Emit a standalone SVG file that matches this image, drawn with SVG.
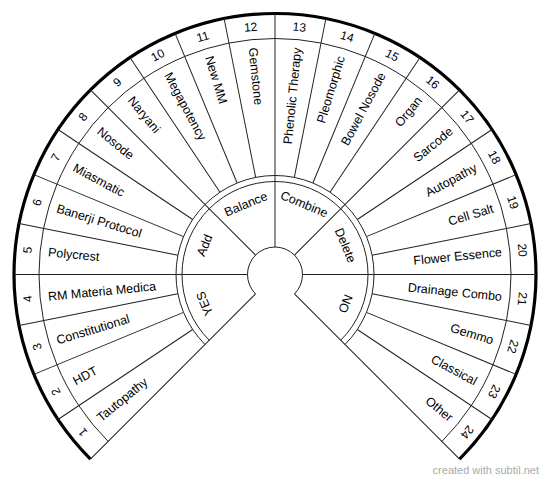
<svg xmlns="http://www.w3.org/2000/svg" width="550" height="482" viewBox="0 0 550 482">
<style>
.t{font-family:"Liberation Sans",Arial,sans-serif;font-size:12.5px;fill:#000;dominant-baseline:central}
.n{font-family:"Liberation Sans",Arial,sans-serif;font-size:12px;fill:#000;text-anchor:middle;dominant-baseline:central}
.l{text-anchor:start}
.r{text-anchor:end}
.c{text-anchor:middle}
.ln{stroke:#222;stroke-width:1;fill:none}
.thick{stroke:#000;stroke-width:3.2;fill:none}
.credit{font-family:"Liberation Sans",Arial,sans-serif;font-size:11px;fill:#aaa;text-anchor:end}
</style>
<rect width="550" height="482" fill="#fff"/>
<g id="frame">
<path class="thick" d="M90.45,459.05 A261,261 0 1 1 459.55,459.05"/>
<path class="ln" d="M108.12,441.38 A236,236 0 1 1 441.88,441.38"/>
<path class="ln" d="M205,344.5 A99,99 0 1 1 345,344.5"/>
<path class="ln" d="M209.24,340.26 A93,93 0 1 1 340.76,340.26"/>
<path class="ln" d="M255.55,293.95 A27.5,27.5 0 1 1 294.45,293.95"/>
</g>
<g id="connectors" transform="translate(275,274.5)">
<g class="ln">
<line x1="27.5" y1="0" x2="261" y2="0" transform="rotate(135)"/>
<line x1="27.5" y1="0" x2="261" y2="0" transform="rotate(180)"/>
<line x1="27.5" y1="0" x2="261" y2="0" transform="rotate(225)"/>
<line x1="27.5" y1="0" x2="261" y2="0" transform="rotate(270)"/>
<line x1="27.5" y1="0" x2="261" y2="0" transform="rotate(315)"/>
<line x1="27.5" y1="0" x2="261" y2="0" transform="rotate(0)"/>
<line x1="27.5" y1="0" x2="261" y2="0" transform="rotate(45)"/>
<line x1="99" y1="0" x2="261" y2="0" transform="rotate(-213.75)"/>
<line x1="99" y1="0" x2="261" y2="0" transform="rotate(-202.5)"/>
<line x1="99" y1="0" x2="261" y2="0" transform="rotate(-191.25)"/>
<line x1="99" y1="0" x2="261" y2="0" transform="rotate(-168.75)"/>
<line x1="99" y1="0" x2="261" y2="0" transform="rotate(-157.5)"/>
<line x1="99" y1="0" x2="261" y2="0" transform="rotate(-146.25)"/>
<line x1="99" y1="0" x2="261" y2="0" transform="rotate(-123.75)"/>
<line x1="99" y1="0" x2="261" y2="0" transform="rotate(-112.5)"/>
<line x1="99" y1="0" x2="261" y2="0" transform="rotate(-101.25)"/>
<line x1="99" y1="0" x2="261" y2="0" transform="rotate(-78.75)"/>
<line x1="99" y1="0" x2="261" y2="0" transform="rotate(-67.5)"/>
<line x1="99" y1="0" x2="261" y2="0" transform="rotate(-56.25)"/>
<line x1="99" y1="0" x2="261" y2="0" transform="rotate(-33.75)"/>
<line x1="99" y1="0" x2="261" y2="0" transform="rotate(-22.5)"/>
<line x1="99" y1="0" x2="261" y2="0" transform="rotate(-11.25)"/>
<line x1="99" y1="0" x2="261" y2="0" transform="rotate(11.25)"/>
<line x1="99" y1="0" x2="261" y2="0" transform="rotate(22.5)"/>
<line x1="99" y1="0" x2="261" y2="0" transform="rotate(33.75)"/>
</g>
</g>
<g transform="translate(275,274.5)">
<g id="sector-1"><text class="t l" x="-228" y="0" transform="rotate(-39.375)">Tautopathy</text><text class="n" x="0" y="-248.5" transform="rotate(-129.375)">1</text></g>
<g id="sector-2"><text class="t l" x="-228" y="0" transform="rotate(-28.125)">HDT</text><text class="n" x="0" y="-248.5" transform="rotate(-118.125)">2</text></g>
<g id="sector-3"><text class="t l" x="-228" y="0" transform="rotate(-16.875)">Constitutional</text><text class="n" x="0" y="-248.5" transform="rotate(-106.875)">3</text></g>
<g id="sector-4"><text class="t l" x="-228" y="0" transform="rotate(-5.625)">RM Materia Medica</text><text class="n" x="0" y="-248.5" transform="rotate(-95.625)">4</text></g>
<g id="sector-5"><text class="t l" x="-228" y="0" transform="rotate(5.625)">Polycrest</text><text class="n" x="0" y="-248.5" transform="rotate(-84.375)">5</text></g>
<g id="sector-6"><text class="t l" x="-228" y="0" transform="rotate(16.875)">Banerji Protocol</text><text class="n" x="0" y="-248.5" transform="rotate(-73.125)">6</text></g>
<g id="sector-7"><text class="t l" x="-228" y="0" transform="rotate(28.125)">Miasmatic</text><text class="n" x="0" y="-248.5" transform="rotate(-61.875)">7</text></g>
<g id="sector-8"><text class="t l" x="-228" y="0" transform="rotate(39.375)">Nosode</text><text class="n" x="0" y="-248.5" transform="rotate(-50.625)">8</text></g>
<g id="sector-9"><text class="t l" x="-228" y="0" transform="rotate(50.625)">Naryani</text><text class="n" x="0" y="-248.5" transform="rotate(-39.375)">9</text></g>
<g id="sector-10"><text class="t l" x="-228" y="0" transform="rotate(61.875)">Megapotency</text><text class="n" x="0" y="-248.5" transform="rotate(-28.125)">10</text></g>
<g id="sector-11"><text class="t l" x="-228" y="0" transform="rotate(73.125)">New MM</text><text class="n" x="0" y="-248.5" transform="rotate(-16.875)">11</text></g>
<g id="sector-12"><text class="t l" x="-228" y="0" transform="rotate(84.375)">Gemstone</text><text class="n" x="0" y="-248.5" transform="rotate(-5.625)">12</text></g>
<g id="sector-13"><text class="t r" x="228" y="0" transform="rotate(-84.375)">Phenolic Therapy</text><text class="n" x="0" y="-248.5" transform="rotate(5.625)">13</text></g>
<g id="sector-14"><text class="t r" x="228" y="0" transform="rotate(-73.125)">Pleomorphic</text><text class="n" x="0" y="-248.5" transform="rotate(16.875)">14</text></g>
<g id="sector-15"><text class="t r" x="228" y="0" transform="rotate(-61.875)">Bowel Nosode</text><text class="n" x="0" y="-248.5" transform="rotate(28.125)">15</text></g>
<g id="sector-16"><text class="t r" x="228" y="0" transform="rotate(-50.625)">Organ</text><text class="n" x="0" y="-248.5" transform="rotate(39.375)">16</text></g>
<g id="sector-17"><text class="t r" x="228" y="0" transform="rotate(-39.375)">Sarcode</text><text class="n" x="0" y="-248.5" transform="rotate(50.625)">17</text></g>
<g id="sector-18"><text class="t r" x="228" y="0" transform="rotate(-28.125)">Autopathy</text><text class="n" x="0" y="-248.5" transform="rotate(61.875)">18</text></g>
<g id="sector-19"><text class="t r" x="228" y="0" transform="rotate(-16.875)">Cell Salt</text><text class="n" x="0" y="-248.5" transform="rotate(73.125)">19</text></g>
<g id="sector-20"><text class="t r" x="228" y="0" transform="rotate(-5.625)">Flower Essence</text><text class="n" x="0" y="-248.5" transform="rotate(84.375)">20</text></g>
<g id="sector-21"><text class="t r" x="228" y="0" transform="rotate(5.625)">Drainage Combo</text><text class="n" x="0" y="-248.5" transform="rotate(95.625)">21</text></g>
<g id="sector-22"><text class="t r" x="228" y="0" transform="rotate(16.875)">Gemmo</text><text class="n" x="0" y="-248.5" transform="rotate(106.875)">22</text></g>
<g id="sector-23"><text class="t r" x="228" y="0" transform="rotate(28.125)">Classical</text><text class="n" x="0" y="-248.5" transform="rotate(118.125)">23</text></g>
<g id="sector-24"><text class="t r" x="228" y="0" transform="rotate(39.375)">Other</text><text class="n" x="0" y="-248.5" transform="rotate(129.375)">24</text></g>
<g id="inner-yes"><text class="t c" x="0" y="-76" transform="rotate(-112.5)">YES</text></g>
<g id="inner-add"><text class="t c" x="0" y="-76" transform="rotate(-67.5)">Add</text></g>
<g id="inner-balance"><text class="t c" x="0" y="-76" transform="rotate(-22.5)">Balance</text></g>
<g id="inner-combine"><text class="t c" x="0" y="-76" transform="rotate(22.5)">Combine</text></g>
<g id="inner-delete"><text class="t c" x="0" y="-76" transform="rotate(67.5)">Delete</text></g>
<g id="inner-no"><text class="t c" x="0" y="-76" transform="rotate(112.5)">NO</text></g>
</g>
<text class="credit" x="539" y="474">created with subtil.net</text>
</svg>
